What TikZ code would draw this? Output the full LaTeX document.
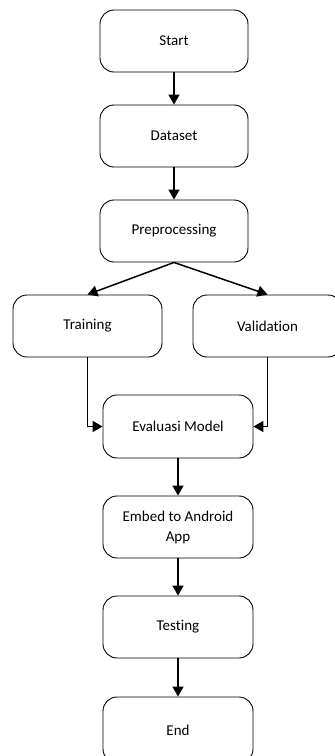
\documentclass[tikz,border=0pt]{standalone}
\usepackage{fontspec}
\setmainfont{Carlito}[Ligatures={NoCommon}]
\usetikzlibrary{arrows.meta}
\begin{document}
\begin{tikzpicture}[x=1pt,y=-1pt,
  flowbox/.style={draw=black, line width=0.9pt, rounded corners=14pt, fill=white,
    minimum width=149pt, minimum height=62pt, align=center,
    font=\fontsize{15}{20}\selectfont, inner sep=2pt},
  flow/.style={line width=1.5pt, -{Triangle[width=11pt,length=10pt]}}]
\useasboundingbox (0,0) rectangle (335,756);
\clip (0,0) rectangle (335,756);

% main column
\node[flowbox, minimum width=148pt] (start) at (174,41) {Start};
\node[flowbox, minimum width=148pt] (data) at (174,136) {Dataset};
\node[flowbox, minimum width=148pt] (pre) at (174,231) {Preprocessing};

% split into the two branches
\node[flowbox] (train) at (87.5,326) {Training};
\node[flowbox] (valid) at (267.5,326) {Validation};

% lower column
\node[flowbox, minimum width=150pt, minimum height=63pt] (eval) at (178,426.5) {Evaluasi Model};
\node[flowbox, minimum width=150pt] (embed) at (178,527) {Embed to Android\\App};
\node[flowbox, minimum width=150pt] (test) at (178,627) {Testing};
\node[flowbox, minimum width=150pt, minimum height=66pt] (end) at (178,730) {End};

% connectors
\draw[flow] (start) -- (data);
\draw[flow] (data) -- (pre);
\draw[flow] (pre.south) -- (train.north);
\draw[flow] (pre.south) -- (valid.north);
\draw[flow] (train.south) |- (eval.west);
\draw[flow] (valid.south) |- (eval.east);
\draw[flow] (eval) -- (embed);
\draw[flow] (embed) -- (test);
\draw[flow] (test) -- (end);
\end{tikzpicture}
\end{document}
